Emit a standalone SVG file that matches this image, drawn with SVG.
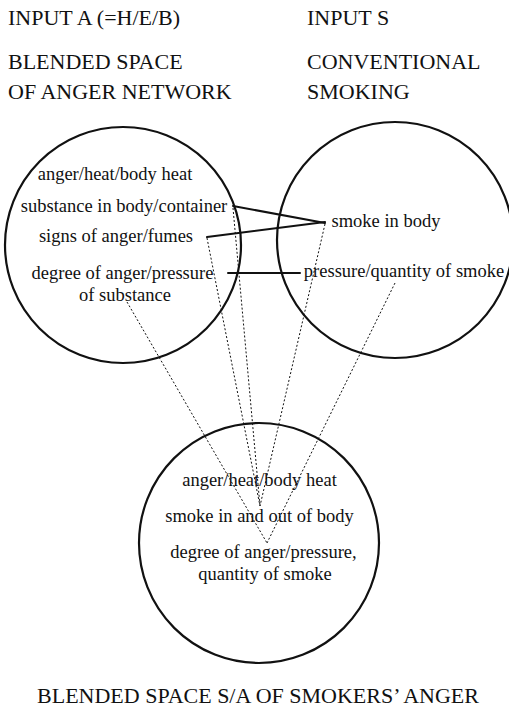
<svg xmlns="http://www.w3.org/2000/svg" width="509" height="711" viewBox="0 0 509 711">
  <style>
    .space { fill: none; stroke: #111; stroke-width: 2.2; }
    .head { font-size: 22px; fill: #111; }
    .lbl { font-size: 18.5px; fill: #111; text-anchor: middle; }
    .map { fill: none; stroke: #111; stroke-width: 2; stroke-linecap: round; }
    .proj { fill: none; stroke: #111; stroke-width: 1; stroke-dasharray: 2 2; }
  </style>
  <rect x="0" y="0" width="509" height="711" fill="#ffffff"/>

  <g font-family="Liberation Serif, Tinos, DejaVu Serif, serif">
    <!-- headings -->
    <g id="headings">
      <text class="head" x="8" y="25">INPUT A (=H/E/B)</text>
      <text class="head" x="307" y="25">INPUT S</text>
      <text class="head" x="8" y="69">BLENDED SPACE</text>
      <text class="head" x="8" y="99">OF ANGER NETWORK</text>
      <text class="head" x="307" y="69">CONVENTIONAL</text>
      <text class="head" x="307" y="99">SMOKING</text>
    </g>

    <!-- connectors: solid cross-space mappings, dotted projections into the blend -->
    <g id="connectors">
      <line class="map" x1="233" y1="206" x2="325" y2="223"/>
      <line class="map" x1="207" y1="237" x2="325" y2="222"/>
      <line class="map" x1="228" y1="273" x2="300" y2="273"/>

      <line class="proj" x1="127" y1="302" x2="267" y2="543"/>
      <line class="proj" x1="207" y1="238" x2="260" y2="506"/>
      <line class="proj" x1="233" y1="208" x2="260" y2="506"/>
      <line class="proj" x1="325" y1="224" x2="260" y2="506"/>
      <line class="proj" x1="395" y1="283" x2="267" y2="543"/>
    </g>

    <!-- input space A -->
    <g id="input-a">
      <circle class="space" cx="123" cy="245" r="118"/>
      <text class="lbl" x="115" y="180">anger/heat/body heat</text>
      <text class="lbl" x="124" y="212">substance in body/container</text>
      <text class="lbl" x="116" y="242">signs of anger/fumes</text>
      <text class="lbl" x="122.5" y="279">degree of anger/pressure</text>
      <text class="lbl" x="125" y="300.5">of substance</text>
    </g>

    <!-- input space S -->
    <g id="input-s">
      <circle class="space" cx="395" cy="240" r="118"/>
      <text class="lbl" x="386" y="227">smoke in body</text>
      <text class="lbl" x="404" y="277">pressure/quantity of smoke</text>
    </g>

    <!-- blended space S/A -->
    <g id="blend">
      <circle class="space" cx="259" cy="543" r="120"/>
      <text class="lbl" x="259.5" y="486">anger/heat/body heat</text>
      <text class="lbl" x="259.5" y="522">smoke in and out of body</text>
      <text class="lbl" x="263.5" y="558">degree of anger/pressure,</text>
      <text class="lbl" x="265" y="580">quantity of smoke</text>
    </g>

    <g id="caption">
      <text class="head" x="258" y="703" text-anchor="middle" font-size="21.5">BLENDED SPACE S/A OF SMOKERS’ ANGER</text>
    </g>
  </g>
</svg>
